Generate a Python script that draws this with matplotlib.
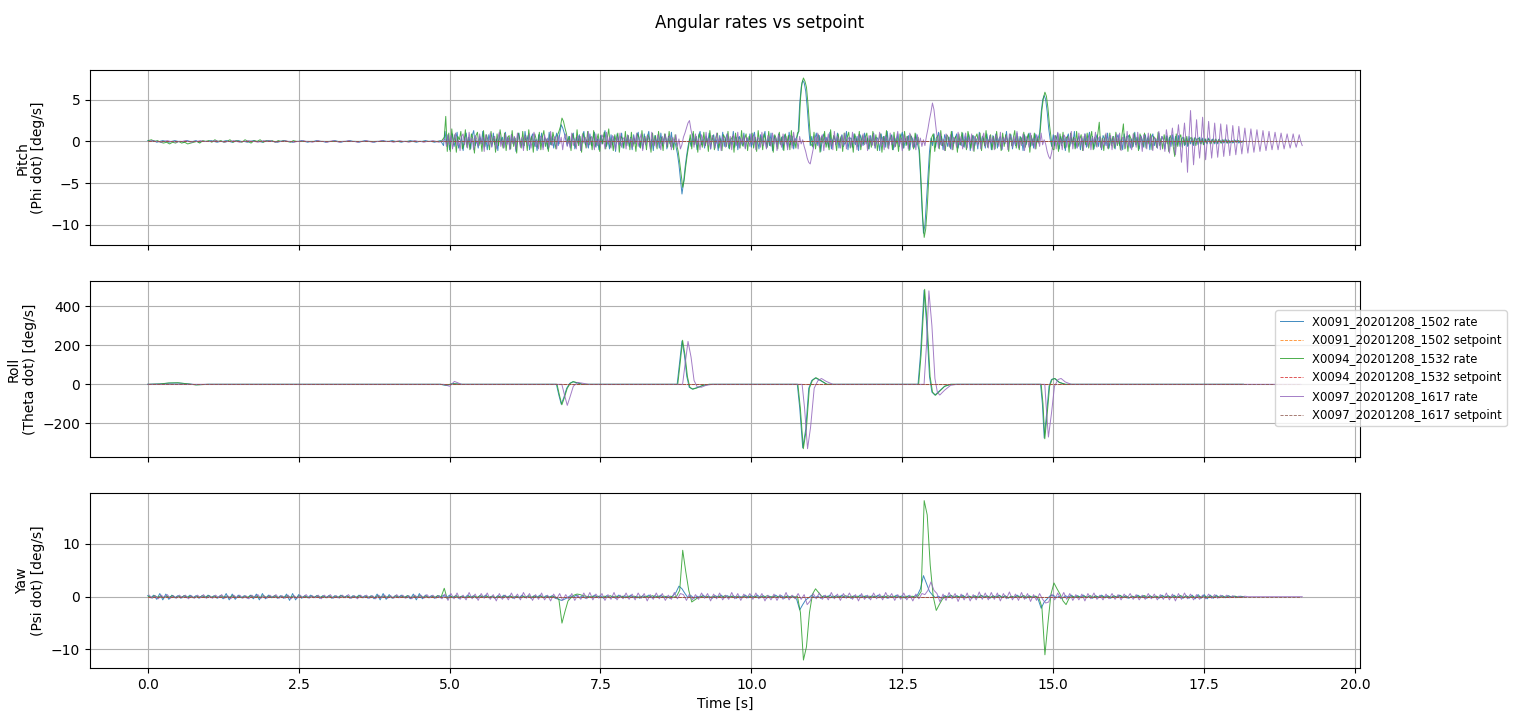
import numpy as np
import matplotlib
matplotlib.use("Agg")
import matplotlib.pyplot as plt

# ---------------- data ----------------
runs = ["X0091_20201208_1502", "X0094_20201208_1532", "X0097_20201208_1617"]
run_t0 = [0.0, 0.012, 0.024]      # first-sample time of each log [s]
run_end = [18.15, 18.15, 19.1]    # last sample [s]

quiet_dt = 0.05     # s, 0 .. 4.85 s (on ground)
active_dt = 0.025   # s, from 4.9 s (in flight)
active_start = 4.9
yaw_dt = 0.05

# ---- pitch rate [deg/s] ----
pitch_quiet_x0091 = [
    0.1,0.0,0.1,-0.1,0.0,0.1,0.0,-0.1,0.0,0.1,0.0,0.0,-0.1,0.1,0.0,0.0,0.1,-0.1,0.0,0.0,
    0.0,0.1,0.0,-0.1,0.0,0.0,0.1,0.0,-0.1,0.0,0.1,0.0,0.0,-0.1,0.0,0.1,0.0,0.0,-0.1,0.0,
    0.1,0.0,0.0,-0.1,0.0,0.1,0.0,0.0,-0.1,0.0,0.0,0.1,0.0,-0.1,0.0,0.0,0.1,0.0,0.0,-0.1,
    0.0,0.0,0.1,0.0,-0.1,0.0,0.0,0.1,0.0,0.0,-0.1,0.0,0.1,0.0,0.0,-0.1,0.0,0.0,0.1,0.0,
    0.0,0.1,0.0,0.0,-0.1,0.0,0.0,0.1,0.0,-0.1,0.0,0.0,0.1,0.0,0.0,-0.1,0.0,0.1,
]
pitch_active_x0091 = [
    -0.5,1.2,-0.3,0.8,
    -1.0,0.4,0.9,-0.6,0.2,1.1,-0.8,-0.2,0.6,-1.1,0.3,1.0,-0.4,0.5,-0.9,0.7,1.3,-0.5,0.1,-0.8,
    0.6,-0.3,1.2,-0.7,0.4,-1.0,0.8,0.2,-0.6,1.0,-0.4,0.3,-1.1,0.9,-0.2,0.5,-0.7,1.1,-0.3,0.4,
    -0.9,0.8,-0.2,0.5,-1.2,0.6,1.0,-0.5,0.3,-0.8,1.2,-0.1,0.7,-1.0,0.4,0.9,-0.6,0.2,-1.1,0.8,
    -0.3,1.0,-0.7,0.5,0.1,-0.9,1.1,-0.4,0.6,-0.8,0.3,1.0,-0.5,0.9,2.0,1.6,1.0,0.2,-0.5,0.6,
    -0.7,0.3,1.0,-0.9,0.5,-0.2,0.8,-1.1,0.6,1.2,-0.4,0.2,-0.8,0.9,-0.5,0.4,1.1,-0.7,0.3,-1.0,
    0.7,-0.3,0.5,1.3,-0.6,0.1,-0.9,0.8,-0.4,0.6,-1.2,0.9,0.2,-0.5,1.0,-0.8,0.4,-0.3,0.7,-0.6,
    0.5,-1.0,0.8,-0.3,0.6,1.1,-0.7,0.2,-0.9,0.9,-0.4,0.5,1.2,-0.6,0.3,-1.1,0.7,-0.2,0.4,-0.8,
    1.0,-0.5,0.3,0.8,-0.9,0.6,-0.3,1.1,-0.7,0.2,-0.6,-1.5,-2.8,-4.5,-6.3,-5.0,-3.2,-1.8,-0.6,0.3,
    -0.6,0.9,-0.3,0.5,-1.0,0.7,1.2,-0.4,0.3,-0.8,0.6,-0.2,1.0,-0.9,0.4,0.8,-0.5,0.2,-1.1,0.7,
    -0.3,1.1,-0.6,0.4,0.9,-0.8,0.3,-0.4,1.2,-0.7,0.5,-1.0,0.6,0.1,-0.5,1.0,-0.8,0.4,-0.2,0.9,
    -0.7,0.5,1.1,-0.4,0.3,-0.9,0.8,-0.2,0.6,1.2,-0.8,0.4,-0.5,1.0,-1.1,0.7,0.2,-0.6,0.9,-0.3,
    0.5,-1.0,0.8,0.3,-0.7,1.1,-0.4,0.6,-0.9,0.2,0.5,1.0,4.5,6.5,7.3,7.0,6.0,4.0,1.5,-0.5,
    0.6,-0.8,0.3,1.0,-0.5,0.7,-1.2,0.4,0.9,-0.3,0.5,-0.7,1.1,-0.9,0.2,0.6,-0.4,1.0,-0.8,0.3,
    0.8,-0.6,-0.1,1.2,-1.0,0.5,0.3,-0.7,0.9,-0.4,0.6,-1.1,0.8,0.2,-0.5,1.0,-0.3,0.4,-0.9,0.7,
    -0.4,1.0,-0.8,0.5,0.2,-1.1,0.9,-0.3,0.6,-0.7,1.2,-0.5,0.3,0.8,-1.0,0.4,-0.2,0.9,-0.6,0.5,
    1.1,-0.8,0.3,-0.4,0.7,-1.0,0.6,0.2,-0.7,0.9,-0.3,-1.0,-4.0,-8.0,-11.0,-10.0,-7.0,-3.8,-1.2,0.4,
    -0.5,0.9,-0.7,0.3,1.1,-0.4,0.6,-1.0,0.8,0.2,-0.6,0.5,-0.9,1.2,-0.3,0.4,0.9,-0.8,0.3,-0.5,
    1.0,-0.7,0.6,-0.2,0.8,-1.1,0.4,0.7,-0.5,0.3,-0.9,1.1,-0.4,0.6,0.2,-0.8,0.9,-0.3,0.5,-1.0,
    0.7,-0.4,0.9,-0.8,0.3,0.6,-1.0,0.5,-0.3,1.2,-0.6,0.4,0.8,-0.9,0.2,-0.5,1.0,-0.7,0.6,0.3,
    -1.1,0.8,-0.4,0.5,1.0,-0.6,0.3,-0.8,0.9,-0.2,0.4,1.0,3.5,5.0,5.5,5.0,3.5,1.5,0.2,-0.6,
    0.8,-0.5,0.3,1.0,-0.9,0.6,-0.2,0.7,-1.1,0.4,0.9,-0.6,0.5,-0.3,1.2,-0.8,0.2,0.6,-1.0,0.4,
    -0.5,0.9,-0.7,0.3,1.1,-0.4,0.6,-0.9,0.2,0.8,-0.6,0.5,-1.0,0.7,0.3,-0.5,1.0,-0.8,0.4,-0.3,
    0.6,-0.9,0.4,0.8,-0.5,0.2,-1.0,0.9,-0.3,0.5,0.7,-0.8,0.3,-0.6,1.1,-0.4,0.5,-0.9,0.7,0.2,
    -0.7,0.8,-0.3,0.6,-1.0,0.4,0.9,-0.5,0.3,-0.8,1.0,-0.4,0.6,0.2,-0.9,0.7,-0.3,0.5,-0.6,0.8,
    -0.5,0.6,-0.4,0.7,-0.6,0.3,0.5,-0.5,0.4,-0.6,0.6,-0.3,0.4,-0.5,0.5,0.2,-0.4,0.5,-0.3,0.4,
    -0.4,0.3,-0.3,0.4,-0.3,0.2,0.3,-0.3,0.2,-0.3,0.3,-0.2,0.2,-0.2,0.3,-0.2,0.2,-0.2,0.1,-0.2,
    0.2,-0.1,0.2,-0.2,0.1,-0.1,0.1,
]
pitch_quiet_x0094 = [
    0.1,0.2,0.0,0.1,-0.1,-0.2,-0.1,-0.3,-0.1,-0.2,0.0,-0.2,-0.1,-0.3,-0.2,-0.1,0.0,-0.2,0.1,0.0,
    0.1,-0.1,0.2,0.0,0.1,-0.1,0.0,0.2,-0.1,0.1,0.0,-0.1,0.2,0.0,-0.2,0.1,0.0,0.2,-0.1,0.1,
    0.0,0.1,-0.1,0.1,0.0,0.1,0.0,-0.1,0.1,0.0,0.0,0.0,0.0,0.0,0.0,0.0,0.0,0.0,0.0,0.0,
    0.0,0.0,0.0,0.0,0.0,0.0,0.0,0.0,0.0,0.0,0.0,0.0,0.0,0.0,0.0,0.0,0.0,0.0,0.0,0.0,
    0.0,0.0,0.0,0.0,0.0,0.0,0.0,0.0,0.0,0.0,0.0,0.0,0.0,0.0,0.0,0.0,0.0,0.0,
]
pitch_active_x0094 = [
    0.5,3.0,-1.2,1.0,
    -1.2,1.5,-0.4,0.8,-1.3,0.6,0.2,1.2,-0.9,-0.3,1.4,-0.7,0.5,-1.0,0.9,0.3,-1.4,0.7,1.1,-0.5,
    0.4,-1.2,1.3,-0.6,0.8,0.1,-1.0,1.2,-0.3,0.6,-1.3,0.9,-0.5,1.4,0.2,-0.8,1.0,-1.1,0.5,0.7,
    -0.9,1.3,-0.6,0.4,-1.4,1.0,0.3,-0.8,1.2,-0.5,0.7,-1.1,1.4,-0.2,0.6,-1.3,0.9,0.2,-0.7,1.1,
    -1.0,0.5,1.3,-0.6,0.3,-1.2,0.8,-0.4,1.1,0.2,-0.9,0.7,1.2,1.8,2.8,2.4,1.6,0.9,-0.2,0.6,
    -1.1,0.9,0.3,-0.7,1.4,-0.5,0.6,-1.3,1.0,0.2,-0.8,1.2,-0.4,0.5,-1.0,1.3,-0.6,0.1,0.9,-1.2,
    0.7,-0.3,1.1,-0.9,0.4,1.5,-0.7,0.3,-1.1,0.8,-0.2,1.0,-1.3,0.6,0.4,-0.8,1.2,-0.5,0.7,-1.0,
    1.1,-0.6,0.3,-1.2,0.9,0.5,-0.8,1.3,-0.4,0.6,-1.0,0.8,0.2,-1.3,1.0,-0.5,0.7,-0.9,1.2,-0.3,
    0.5,-1.1,0.9,0.3,-0.7,1.2,-0.6,0.4,-1.0,0.8,-0.4,-1.2,-2.5,-4.0,-5.5,-4.6,-3.0,-1.6,-0.5,0.8,
    -0.9,1.2,-0.4,0.6,-1.3,0.9,0.2,-0.7,1.1,-0.5,0.4,-1.2,1.3,-0.3,0.7,-1.0,0.5,1.0,-0.8,0.3,
    -1.1,0.8,0.4,-0.6,1.2,-0.9,0.2,0.6,-1.3,1.0,-0.4,0.5,-0.8,1.3,-0.6,0.3,0.9,-1.1,0.6,-0.2,
    1.0,-0.8,0.5,-1.2,1.3,-0.3,0.6,-1.0,0.9,0.2,-0.7,1.2,-0.5,0.4,-1.3,0.8,0.3,-0.9,1.1,-0.4,
    0.6,-1.1,0.9,-0.2,0.7,-1.0,1.3,-0.5,0.3,-0.8,1.0,1.2,5.0,7.0,7.6,7.2,6.5,4.5,2.0,-0.3,
    -0.6,1.1,-0.9,0.4,0.8,-1.3,0.6,-0.2,1.2,-0.7,0.3,-1.0,1.4,-0.5,0.7,0.2,-1.1,0.9,-0.4,0.6,
    -1.2,1.0,-0.3,0.5,1.1,-0.8,0.4,-1.3,0.9,0.2,-0.6,1.2,-1.0,0.7,-0.3,0.5,1.0,-0.9,0.4,-0.7,
    1.2,-0.5,0.8,-1.1,0.3,0.9,-1.3,0.6,-0.4,1.3,-0.8,0.2,0.7,-1.0,1.1,-0.6,0.4,-1.2,0.9,0.3,
    -0.8,1.2,-0.5,0.6,-1.1,0.8,0.2,-0.9,1.0,-0.4,0.5,-1.5,-5.0,-9.0,-11.5,-10.5,-8.0,-4.5,-1.5,0.5,
    0.9,-1.2,0.4,0.7,-0.9,1.3,-0.5,0.2,-1.1,0.8,0.5,-0.7,1.2,-1.0,0.3,0.6,-1.3,0.9,-0.4,1.1,
    -0.6,0.3,-1.0,1.2,0.4,-0.8,0.7,-1.2,0.5,0.9,-0.3,1.0,-1.1,0.6,-0.5,1.3,-0.7,0.2,0.8,-1.0,
    0.6,-0.9,1.2,-0.4,0.3,-1.1,1.0,-0.6,0.8,0.2,-1.2,0.9,-0.5,0.4,1.3,-0.8,0.6,-1.0,0.5,-0.3,
    1.1,-0.7,0.2,0.9,-1.3,0.7,-0.4,1.0,-0.9,0.5,-0.2,1.5,3.8,5.2,5.9,5.4,4.0,2.0,0.5,-0.9,
    -1.0,0.7,0.3,-1.2,0.9,-0.5,1.1,-0.8,0.4,0.6,-1.3,1.0,-0.3,0.5,-0.9,1.2,-0.6,0.2,0.8,-1.1,
    0.6,-0.4,1.0,-0.8,0.3,1.2,-1.0,0.5,-0.6,0.9,2.3,-0.7,0.4,-1.1,0.8,0.2,-0.9,1.0,-0.5,0.6,
    -0.8,1.1,-0.5,0.4,-1.0,0.7,2.1,-0.9,0.6,-1.2,0.8,0.3,-0.7,1.0,-0.4,0.5,-1.1,0.9,0.2,-0.6,
    1.0,-0.8,0.4,-0.3,0.9,-1.0,0.6,0.3,-0.7,1.1,-0.5,0.4,-0.9,0.8,-0.3,0.6,-1.2,0.7,0.3,-0.6,
    -1.8,0.9,-0.6,0.4,0.8,-0.7,0.5,-0.4,0.6,-0.5,0.3,0.5,-0.4,0.4,-0.5,0.3,0.4,-0.3,0.3,-0.4,
    0.3,-0.2,0.3,0.2,-0.3,0.2,-0.2,0.3,-0.2,0.2,0.1,-0.2,0.2,-0.1,0.2,-0.2,0.1,-0.1,0.1,-0.1,
    0.1,-0.1,0.1,0.0,-0.1,0.0,0.0,
]
pitch_quiet_x0097 = [
    0.0,0.1,0.0,0.0,-0.1,0.0,0.1,0.0,0.0,-0.1,0.0,0.0,0.1,0.0,-0.1,0.0,0.0,0.1,0.0,0.0,
    0.0,0.0,0.1,0.0,0.0,-0.1,0.0,0.0,0.1,0.0,-0.1,0.0,0.0,0.1,0.0,0.0,-0.1,0.0,0.1,0.0,
    0.1,0.0,-0.1,0.0,0.0,0.1,0.0,0.0,-0.1,0.0,0.0,0.1,0.0,0.0,-0.1,0.0,0.1,0.0,0.0,-0.1,
    0.0,0.1,0.0,-0.1,0.0,0.0,0.1,0.0,0.0,-0.1,0.0,0.0,0.1,0.0,-0.1,0.0,0.0,0.1,0.0,0.0,
    0.0,-0.1,0.0,0.1,0.0,0.0,-0.1,0.0,0.1,0.0,0.0,-0.1,0.0,0.0,0.1,0.0,-0.1,0.0,
]
pitch_active_x0097 = [
    0.3,-0.6,0.8,-0.4,
    0.7,-0.9,0.3,1.0,-0.5,0.2,-1.1,0.6,0.9,-0.4,0.5,-0.8,1.1,-0.2,0.4,-1.0,0.7,0.3,-0.6,0.9,
    -0.3,0.5,-1.2,0.8,0.2,-0.5,1.0,-0.7,0.4,0.6,-0.9,0.3,1.1,-0.6,0.2,-0.8,0.9,-0.4,0.5,-1.0,
    0.8,-0.3,0.6,-0.9,1.0,0.2,-0.7,0.5,-1.1,0.7,0.3,-0.5,0.9,-0.8,0.4,1.1,-0.6,0.2,-0.9,0.6,
    0.5,-1.0,0.8,-0.2,0.4,-0.7,1.2,-0.5,0.3,0.6,-0.9,0.7,-0.3,0.5,-1.0,0.4,0.9,-0.6,0.2,-0.8,
    1.0,-0.5,0.3,-0.9,0.7,0.4,-1.1,0.8,-0.2,0.5,-0.7,1.2,-0.4,0.6,0.2,-1.0,0.9,-0.5,0.3,-0.6,
    0.8,0.4,-0.9,1.1,-0.3,0.5,-0.8,0.7,0.2,-1.0,0.6,-0.4,1.0,-0.7,0.3,0.5,-0.9,0.8,-0.2,0.4,
    -0.8,0.6,-0.3,1.0,-0.6,0.2,0.9,-1.1,0.5,-0.4,0.7,0.3,-0.9,1.1,-0.5,0.4,-0.7,0.8,0.2,-1.0,
    0.6,-0.3,0.9,-0.6,0.4,0.7,-1.0,0.5,-0.2,0.8,-0.6,0.3,-0.9,-0.4,0.5,1.0,1.6,2.2,2.5,1.4,
    0.5,-0.7,0.9,-0.4,0.3,-1.0,0.8,0.2,-0.6,1.1,-0.5,0.4,-0.9,0.7,0.3,-0.8,1.0,-0.3,0.5,-1.1,
    0.6,0.2,-0.7,0.9,-0.4,0.6,-1.0,0.8,0.3,-0.5,1.1,-0.8,0.4,-0.3,0.7,-0.9,0.5,0.2,-0.6,0.9,
    -0.4,0.8,-1.0,0.5,0.3,-0.7,1.1,-0.5,0.2,-0.9,0.7,0.4,-0.6,1.0,-0.3,0.5,-1.1,0.8,0.2,-0.7,
    0.9,-0.4,0.6,-1.0,0.3,0.7,-0.8,1.1,-0.2,0.4,-0.9,0.6,-0.3,0.2,-0.6,-1.2,-2.0,-2.5,-2.7,-1.8,
    -0.9,0.6,-0.3,1.0,-0.7,0.4,0.8,-1.1,0.5,-0.2,0.9,-0.6,0.3,-1.0,1.2,-0.4,0.6,0.2,-0.8,0.7,
    -0.5,1.0,-0.9,0.3,0.5,-0.7,1.1,-0.3,0.4,-1.0,0.8,0.2,-0.6,0.9,-0.4,0.6,-1.1,0.7,0.3,-0.5,
    0.9,-0.8,0.4,-0.3,1.1,-0.6,0.5,-1.0,0.7,0.2,-0.9,1.0,-0.4,0.6,-0.7,0.3,1.2,-0.5,0.4,-1.1,
    0.8,-0.2,0.6,-0.9,1.0,0.3,-0.7,0.5,-1.0,0.8,-0.3,0.4,-0.6,0.2,-0.5,0.6,1.5,2.6,3.5,4.6,
    3.8,2.2,0.6,-0.8,1.0,-0.5,0.3,-1.1,0.9,0.4,-0.6,0.8,-1.0,0.5,0.2,-0.7,1.1,-0.4,0.6,-0.9,
    0.3,1.0,-0.8,0.5,-0.3,0.9,-1.1,0.6,0.2,-0.5,0.8,-0.9,0.4,1.0,-0.6,0.3,-0.8,0.7,-0.2,0.5,
    -1.0,0.8,0.3,-0.6,1.1,-0.9,0.5,-0.2,0.7,-1.0,0.9,0.4,-0.7,0.6,-0.4,1.2,-0.8,0.3,-0.5,0.9,
    -1.1,0.6,0.2,-0.7,1.0,-0.5,0.4,-0.9,0.8,0.3,-0.6,1.0,-0.4,0.2,-0.3,-1.2,-1.8,-2.1,-1.3,-0.2,
    0.7,-0.9,1.1,-0.4,0.3,-1.0,0.8,0.5,-0.7,0.6,-0.3,1.2,-0.9,0.4,0.2,-0.8,1.0,-0.5,0.6,-1.1,
    0.9,0.3,-0.6,0.8,-1.0,0.5,-0.2,1.1,-0.7,0.4,0.6,-0.9,0.3,-0.5,1.0,-0.8,0.4,0.7,-1.0,0.5,
    -0.6,0.9,-0.3,1.0,-1.1,0.5,0.4,-0.8,1.2,-0.6,0.3,-1.0,0.9,0.2,-0.7,1.1,-0.5,0.6,-1.2,0.8,
    0.4,-0.9,1.0,-0.4,0.7,-1.1,0.5,0.3,-0.8,1.2,-1.0,0.6,0.2,-1.2,1.4,0.3,-1.4,0.2,1.6,-0.3,
    -1.6,0.2,2.0,0.0,-2.5,0.3,2.2,0.0,-3.7,0.5,3.7,0.2,-2.8,0.0,2.6,0.0,-2.0,0.0,2.9,0.0,
    -2.2,0.0,2.4,0.0,-2.0,0.0,2.2,0.0,-1.9,0.0,2.1,0.0,-1.8,0.0,2.0,0.0,-1.7,0.0,1.9,0.0,
    -1.6,0.0,1.8,0.0,-1.5,0.0,1.6,0.0,-1.4,0.0,1.5,0.0,-1.3,0.0,1.4,0.0,-1.2,0.0,1.3,0.0,
    -1.1,0.0,1.2,0.0,-1.0,0.0,1.1,0.0,-1.0,0.0,1.0,0.0,-0.9,0.0,0.9,0.0,-0.8,0.0,0.9,0.0,
    -0.7,0.0,0.8,0.0,-0.5,
]

# ---- roll rate: (time [s], rate [deg/s]) vertices ----
roll_rate_x0091 = [
    (0.0, 0), (0.2, 2), (0.35, 6), (0.5, 7), (0.65, 3), (0.8, -2), (1.0, 0),
    (4.85, 0), (4.95, -6), (5.05, 4), (5.2, 0),
    (6.77, 0), (6.81, -55), (6.85, -102), (6.89, -70), (6.94, -20), (6.99, 5), (7.04, 13), (7.11, 8), (7.2, 0),
    (8.77, 0), (8.81, 110), (8.85, 222), (8.89, 150), (8.93, 40), (8.97, -15), (9.02, -24), (9.09, -18), (9.2, -5), (9.3, 0),
    (10.76, 0), (10.8, -120), (10.85, -325), (10.9, -230), (10.95, -20), (11.0, 20), (11.06, 33), (11.14, 20), (11.25, 0),
    (12.76, 0), (12.8, 150), (12.86, 482), (12.9, 320), (12.95, 40), (12.99, -40), (13.04, -55), (13.11, -35), (13.2, -10), (13.3, 0),
    (14.79, 0), (14.82, -100), (14.85, -275), (14.89, -150), (14.93, -10), (14.97, 25), (15.02, 30), (15.1, 10), (15.2, 0),
    (18.15, 0),
]
roll_rate_x0094 = [
    (0.0, 0), (0.2, 2), (0.35, 7), (0.5, 8), (0.65, 3), (0.8, -3), (1.0, 0),
    (4.85, 0), (4.95, -4), (5.05, 3), (5.2, 0),
    (6.78, 0), (6.82, -55), (6.86, -105), (6.9, -70), (6.95, -20), (7.0, 5), (7.05, 14), (7.12, 8), (7.2, 0),
    (8.78, 0), (8.82, 110), (8.86, 226), (8.9, 150), (8.94, 40), (8.98, -15), (9.03, -25), (9.1, -18), (9.2, -5), (9.3, 0),
    (10.77, 0), (10.81, -120), (10.86, -330), (10.91, -230), (10.96, -20), (11.01, 20), (11.07, 34), (11.15, 20), (11.25, 0),
    (12.77, 0), (12.81, 150), (12.87, 487), (12.91, 320), (12.96, 40), (13.0, -40), (13.05, -56), (13.12, -35), (13.2, -10), (13.3, 0),
    (14.8, 0), (14.83, -100), (14.86, -279), (14.9, -150), (14.94, -10), (14.98, 25), (15.03, 30), (15.1, 10), (15.2, 0),
    (18.15, 0),
]
roll_rate_x0097 = [
    (0.0, 0), (4.9, 0), (5.0, -10), (5.08, 15), (5.2, 0),
    (6.86, 0), (6.9, -50), (6.95, -108), (7.0, -60), (7.05, -10), (7.12, 10), (7.2, 6), (7.3, 0),
    (8.86, 0), (8.9, 100), (8.95, 220), (9.0, 140), (9.05, 20), (9.1, -12), (9.17, -15), (9.25, -5), (9.35, 0),
    (10.84, 0), (10.88, -120), (10.93, -330), (10.98, -220), (11.04, -20), (11.1, 18), (11.16, 30), (11.24, 15), (11.35, 0),
    (12.86, 0), (12.9, 200), (12.94, 479), (12.99, 300), (13.04, 30), (13.08, -40), (13.12, -55), (13.2, -30), (13.3, -5), (13.4, 0),
    (14.86, 0), (14.88, -100), (14.92, -270), (14.97, -150), (15.02, -10), (15.08, 25), (15.13, 30), (15.2, 12), (15.3, 0),
    (19.1, 0),
]

# ---- yaw rate [deg/s], sampled every yaw_dt ----
yaw_rate_x0091 = [
    0.2,-0.2,0.3,-0.5,0.6,-0.6,0.5,-0.5,0.3,-0.2,0.2,-0.3,0.2,-0.2,0.3,-0.2,0.2,-0.3,0.2,-0.2,
    0.3,-0.2,0.2,-0.3,0.2,-0.4,0.6,-0.6,0.5,-0.5,0.3,-0.2,0.2,-0.3,0.3,-0.4,0.5,-0.6,0.6,-0.4,
    0.3,-0.2,0.2,-0.3,0.2,-0.3,0.5,-0.7,0.6,-0.6,0.4,-0.3,0.2,-0.2,0.3,-0.2,0.2,-0.3,0.2,-0.2,
    0.2,-0.3,0.2,-0.2,0.3,-0.2,0.2,-0.3,0.2,-0.2,0.3,-0.2,0.2,-0.3,0.2,-0.4,0.5,-0.6,0.6,-0.5,
    0.4,-0.3,0.2,-0.2,0.3,-0.2,0.2,-0.4,0.5,-0.6,0.6,-0.4,0.3,-0.2,0.2,-0.3,0.2,-0.2,0.3,-0.2,
    0.3,-0.2,0.2,-0.3,0.1,-0.2,0.3,-0.1,0.2,-0.3,0.2,-0.1,0.3,-0.2,0.1,-0.3,0.2,-0.2,0.3,-0.1,
    0.2,-0.3,0.1,-0.2,0.3,-0.2,0.1,-0.3,0.2,-0.1,0.3,-0.2,0.2,-0.1,0.2,-0.3,-0.4,-0.7,-0.5,-0.2,
    0.2,-0.1,0.3,-0.2,0.2,-0.3,0.1,-0.2,0.3,-0.1,0.2,-0.3,0.2,-0.2,0.1,-0.3,0.3,-0.1,0.2,-0.2,
    0.3,-0.2,0.1,-0.3,0.2,-0.1,0.3,-0.2,0.2,-0.1,0.3,-0.2,0.1,-0.3,0.2,0.8,2.0,1.5,0.6,-0.2,
    0.2,-0.3,0.1,-0.2,0.3,-0.2,0.1,-0.3,0.2,-0.1,0.3,-0.2,0.2,-0.1,0.2,-0.3,0.1,-0.2,0.3,-0.2,
    0.2,-0.1,0.3,-0.2,0.2,-0.3,0.1,-0.2,0.3,-0.1,0.2,-0.3,0.2,-0.2,0.1,-0.5,-2.5,-1.5,-0.6,-0.2,
    0.3,-0.2,0.1,-0.3,0.2,-0.1,0.3,-0.2,0.2,-0.1,0.3,-0.2,0.1,-0.3,0.2,-0.2,0.3,-0.1,0.2,-0.3,
    0.2,-0.1,0.3,-0.2,0.2,-0.3,0.1,-0.2,0.3,-0.1,0.2,-0.3,0.2,-0.2,0.1,0.3,1.5,4.0,2.5,1.0,
    0.3,-0.2,0.1,-0.3,0.2,-0.1,0.3,-0.2,0.2,-0.1,0.3,-0.2,0.1,-0.3,0.2,-0.2,0.3,-0.1,0.2,-0.3,
    0.2,-0.1,0.3,-0.2,0.2,-0.3,0.1,-0.2,0.3,-0.1,0.2,-0.3,0.2,-0.2,0.1,-0.5,-2.2,-1.0,-0.4,0.2,
    0.3,-0.2,0.1,-0.3,0.2,-0.1,0.3,-0.2,0.2,-0.1,0.3,-0.2,0.1,-0.3,0.2,-0.2,0.3,-0.1,0.2,-0.3,
    0.2,-0.1,0.3,-0.2,0.2,-0.3,0.1,-0.2,0.3,-0.1,0.2,-0.3,0.2,-0.2,0.1,-0.3,0.3,-0.1,0.2,-0.2,
    0.3,-0.2,0.2,-0.3,0.2,-0.3,0.3,-0.4,0.4,-0.3,0.4,-0.4,0.3,-0.3,0.3,-0.2,0.2,-0.2,0.2,-0.1,
    0.1,-0.1,0.1,0.0,
]
yaw_rate_x0094 = [
    0.1,-0.2,0.2,-0.1,0.1,-0.2,0.1,-0.1,0.2,-0.2,0.1,-0.1,0.2,-0.1,0.1,-0.2,0.1,-0.1,0.2,-0.1,
    0.2,-0.1,0.1,-0.2,0.2,-0.1,0.1,-0.1,0.2,-0.2,0.1,-0.2,0.1,-0.1,0.2,-0.1,0.1,-0.2,0.2,-0.1,
    0.1,-0.1,0.2,-0.2,0.1,-0.1,0.2,-0.1,0.1,-0.2,0.2,-0.1,0.1,-0.2,0.1,-0.1,0.2,-0.1,0.1,-0.2,
    0.2,-0.2,0.1,-0.1,0.2,-0.1,0.1,-0.2,0.1,-0.1,0.2,-0.2,0.1,-0.1,0.1,-0.2,0.2,-0.1,0.1,-0.1,
    0.1,-0.2,0.2,-0.1,0.1,-0.1,0.2,-0.2,0.1,-0.1,0.2,-0.1,0.1,-0.2,0.1,-0.1,0.2,0.0,1.6,-0.4,
    0.1,-0.1,0.2,-0.1,0.1,-0.2,0.1,-0.1,0.1,-0.1,0.2,-0.1,0.1,-0.1,0.1,-0.2,0.1,-0.1,0.1,-0.1,
    0.1,-0.1,0.1,-0.2,0.1,-0.1,0.2,-0.1,0.1,-0.1,0.1,-0.2,0.1,-0.1,0.1,-0.1,-0.6,-5.0,-2.8,-0.8,
    -0.2,0.3,0.5,0.4,0.2,0.1,-0.1,0.1,-0.1,0.1,-0.2,0.1,-0.1,0.2,-0.1,0.1,-0.1,0.1,-0.2,0.1,
    -0.1,0.1,-0.2,0.1,-0.1,0.1,-0.1,0.2,-0.1,0.1,-0.1,0.1,-0.2,0.1,-0.1,0.1,1.2,8.8,4.8,1.2,
    -1.0,-0.6,-0.2,0.1,-0.1,0.1,-0.2,0.1,-0.1,0.1,-0.1,0.2,-0.1,0.1,-0.1,0.1,-0.2,0.1,-0.1,0.1,
    -0.1,0.1,-0.2,0.1,-0.1,0.2,-0.1,0.1,-0.1,0.1,-0.2,0.1,-0.1,0.1,-0.1,0.1,-3.0,-12.0,-9.5,-3.0,
    0.5,1.5,0.8,0.1,-0.1,0.1,-0.2,0.1,-0.1,0.1,-0.1,0.2,-0.1,0.1,-0.1,0.1,-0.2,0.1,-0.1,0.1,
    -0.1,0.1,-0.2,0.1,-0.1,0.2,-0.1,0.1,-0.1,0.1,-0.2,0.1,-0.1,0.1,-0.1,0.1,1.0,18.2,15.5,6.0,
    0.0,-2.6,-1.5,-0.5,0.1,-0.1,0.2,-0.1,0.1,-0.1,0.1,-0.2,0.1,-0.1,0.1,-0.1,0.2,-0.1,0.1,-0.1,
    0.1,-0.1,0.2,-0.1,0.1,-0.2,0.1,-0.1,0.1,-0.1,0.2,-0.1,0.1,-0.1,0.1,-0.2,-2.0,-11.0,-5.0,0.5,
    2.6,1.5,0.5,-0.8,-1.5,-0.3,0.1,-0.1,0.1,-0.2,0.1,-0.1,0.2,-0.1,0.1,-0.1,0.1,-0.2,0.1,-0.1,
    0.1,-0.1,0.2,-0.1,0.1,-0.2,0.1,-0.1,0.1,-0.1,0.2,-0.1,0.1,-0.1,0.1,-0.2,0.1,-0.1,0.1,-0.1,
    0.1,-0.1,0.2,-0.1,0.1,-0.1,0.1,-0.2,0.1,-0.1,0.1,-0.1,0.1,-0.1,0.1,-0.1,0.1,-0.1,0.1,-0.1,
    0.1,-0.1,0.0,0.0,
]
yaw_rate_x0097 = [
    0.3,-0.3,0.2,-0.4,0.3,-0.2,0.4,-0.3,0.2,-0.3,0.3,-0.2,0.3,-0.4,0.2,-0.3,0.3,-0.2,0.4,-0.3,
    0.2,-0.3,0.3,-0.2,0.4,-0.3,0.2,-0.4,0.3,-0.2,0.3,-0.3,0.2,-0.4,0.3,-0.2,0.4,-0.3,0.2,-0.3,
    0.3,-0.2,0.4,-0.3,0.2,-0.3,0.3,-0.4,0.2,-0.3,0.3,-0.2,0.4,-0.3,0.2,-0.2,0.3,-0.4,0.3,-0.2,
    0.4,-0.3,0.2,-0.3,0.3,-0.2,0.4,-0.3,0.2,-0.4,0.3,-0.2,0.3,-0.3,0.2,-0.4,0.3,-0.2,0.3,-0.3,
    0.2,-0.3,0.4,-0.2,0.3,-0.3,0.2,-0.4,0.3,-0.2,0.3,-0.3,0.4,-0.2,0.3,-0.3,0.2,-0.4,0.5,-0.7,
    0.6,-0.4,0.7,-0.5,0.3,-0.6,0.8,-0.4,0.5,-0.7,0.6,-0.3,0.7,-0.5,0.4,-0.8,0.6,-0.5,0.3,-0.6,
    0.7,-0.4,0.5,-0.6,0.8,-0.3,0.6,-0.7,0.4,-0.5,0.7,-0.6,0.3,-0.8,0.5,-0.4,0.6,-0.7,0.4,-0.5,
    0.6,-0.7,0.3,-0.5,0.7,-0.4,0.8,-0.6,0.5,-0.3,0.6,-0.7,0.4,-0.5,0.8,-0.6,0.3,-0.4,0.7,-0.5,
    0.5,-0.6,0.7,-0.3,0.6,-0.8,0.4,-0.5,0.7,-0.4,0.6,-0.7,0.3,-0.5,0.8,-0.4,0.6,0.4,-0.7,0.5,
    -0.6,0.4,-0.5,0.7,-0.3,0.6,-0.8,0.5,-0.4,0.7,-0.6,0.3,-0.5,0.8,-0.4,0.6,-0.7,0.5,-0.3,0.6,
    -0.5,0.7,-0.4,0.6,-0.8,0.3,-0.6,0.5,-0.7,0.4,-0.5,0.8,-0.6,0.3,-0.4,0.6,-0.5,0.4,-1.5,-0.8,
    0.6,-0.4,0.7,-0.5,0.3,-0.6,0.8,-0.4,0.5,-0.7,0.6,-0.3,0.7,-0.5,0.4,-0.8,0.6,-0.5,0.3,-0.6,
    0.7,-0.4,0.5,-0.6,0.8,-0.3,0.6,-0.7,0.4,-0.5,0.7,-0.6,0.3,-0.8,0.5,-0.4,0.6,0.4,1.2,2.8,
    1.2,0.6,-1.0,0.5,-0.7,0.8,-0.4,0.6,-0.9,0.5,-0.6,0.7,-0.8,0.4,-0.6,0.9,-0.5,0.7,-0.6,0.8,
    -0.5,0.7,-0.8,0.6,-0.4,0.9,-0.6,0.5,-0.7,0.8,-0.5,0.6,-0.9,0.4,-0.7,0.6,-0.5,-1.2,-1.0,0.5,
    -0.6,0.7,-0.4,0.8,-0.5,0.6,-0.7,0.4,-0.6,0.5,-0.8,0.6,-0.4,0.7,-0.5,0.3,-0.6,0.5,-0.4,0.6,
    -0.5,0.4,-0.6,0.5,-0.3,0.6,-0.5,0.4,-0.6,0.3,-0.5,0.6,-0.4,0.5,-0.6,0.4,-0.5,0.7,-0.6,0.5,
    -0.8,0.6,-0.5,0.7,-0.4,0.5,-0.6,0.4,-0.5,0.3,-0.4,0.5,-0.3,0.4,-0.3,0.3,-0.2,0.3,-0.2,0.2,
    -0.2,0.1,-0.1,0.1,0.0,0.0,0.0,0.0,0.0,0.0,0.0,0.0,0.0,0.0,0.0,0.0,0.0,0.0,0.0,0.0,
    0.0,0.0,0.0,
]

# setpoints are zero for every run / axis
setpoint_value = [0.0, 0.0]

rate_colors = ["#1f77b4", "#2ca02c", "#9467bd"]
setpoint_colors = ["#ff7f0e", "#d62728", "#8c564b"]

ylabels = ["Pitch\n(Phi dot) [deg/s]", "Roll\n(Theta dot) [deg/s]", "Yaw\n(Psi dot) [deg/s]"]

# ---------------- plot ----------------
fig, axes = plt.subplots(3, 1, sharex=True, figsize=(15.2, 7.18), dpi=100)
fig.subplots_adjust(left=0.0592, right=0.8947, top=0.9025, bottom=0.0696, hspace=0.205)
fig.suptitle("Angular rates vs setpoint", fontsize=12, y=0.98)

pitch_quiet = [pitch_quiet_x0091, pitch_quiet_x0094, pitch_quiet_x0097]
pitch_active = [pitch_active_x0091, pitch_active_x0094, pitch_active_x0097]
roll = [roll_rate_x0091, roll_rate_x0094, roll_rate_x0097]
yaw = [yaw_rate_x0091, yaw_rate_x0094, yaw_rate_x0097]

rate_kw = dict(lw=0.7, alpha=0.85)
sp_kw = dict(lw=0.6, ls="--", alpha=0.9)

for k in range(3):
    # pitch
    vq = np.array(pitch_quiet[k])
    va = np.array(pitch_active[k])
    tq = run_t0[k] + np.arange(len(vq)) * quiet_dt
    ta = run_t0[k] + active_start + np.arange(len(va)) * active_dt
    axes[0].plot(np.concatenate([tq, ta]), np.concatenate([vq, va]),
                 color=rate_colors[k], label=f"{runs[k]} rate", **rate_kw)
    axes[0].plot([0.0, run_end[k]], setpoint_value, color=setpoint_colors[k],
                 label=f"{runs[k]} setpoint", **sp_kw)
    # roll
    arr = np.array(roll[k])
    axes[1].plot(arr[:, 0], arr[:, 1], color=rate_colors[k], **rate_kw)
    axes[1].plot([0.0, run_end[k]], setpoint_value, color=setpoint_colors[k], **sp_kw)
    # yaw
    v = np.array(yaw[k])
    t = run_t0[k] + np.arange(len(v)) * yaw_dt
    axes[2].plot(t, v, color=rate_colors[k], **rate_kw)
    axes[2].plot([0.0, run_end[k]], setpoint_value, color=setpoint_colors[k], **sp_kw)

for ax, lab in zip(axes, ylabels):
    ax.set_ylabel(lab)
    ax.grid(True)

axes[2].set_xlabel("Time [s]")

handles, labels = axes[0].get_legend_handles_labels()
fig.legend(handles, labels, loc="center right", fontsize="small",
           bbox_to_anchor=(0.995, 0.487))

fig.savefig("out.png", dpi=100)
